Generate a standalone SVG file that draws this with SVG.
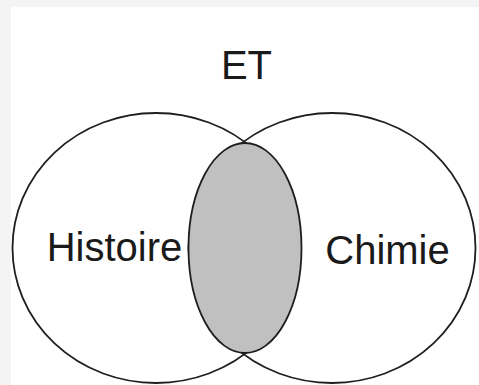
<svg xmlns="http://www.w3.org/2000/svg" width="479" height="385" viewBox="0 0 479 385">
<style>
.set{fill:none;stroke:#1e1e1e;stroke-width:1.8}
.inter{fill:#c0c0c0;stroke:#1e1e1e;stroke-width:1.8}
.lbl{font-family:"Liberation Sans",Arial,sans-serif;font-size:40px;fill:#1a1a1a;text-anchor:middle}
</style>
<rect x="0" y="0" width="479" height="385" fill="#f4f4f4"/>
<rect x="11" y="7" width="468" height="378" fill="#ffffff"/>
<g id="title"><text class="lbl" x="246.5" y="79">ET</text></g>
<g id="histoire">
<ellipse class="set" cx="156" cy="248" rx="143.5" ry="135"/>
<text class="lbl" x="114.5" y="261">Histoire</text>
</g>
<g id="chimie">
<ellipse class="set" cx="332" cy="248" rx="143.5" ry="135"/>
<text class="lbl" x="387.5" y="264">Chimie</text>
</g>
<g id="intersection">
<ellipse class="inter" cx="245" cy="248" rx="56.5" ry="105"/>
</g>
</svg>
